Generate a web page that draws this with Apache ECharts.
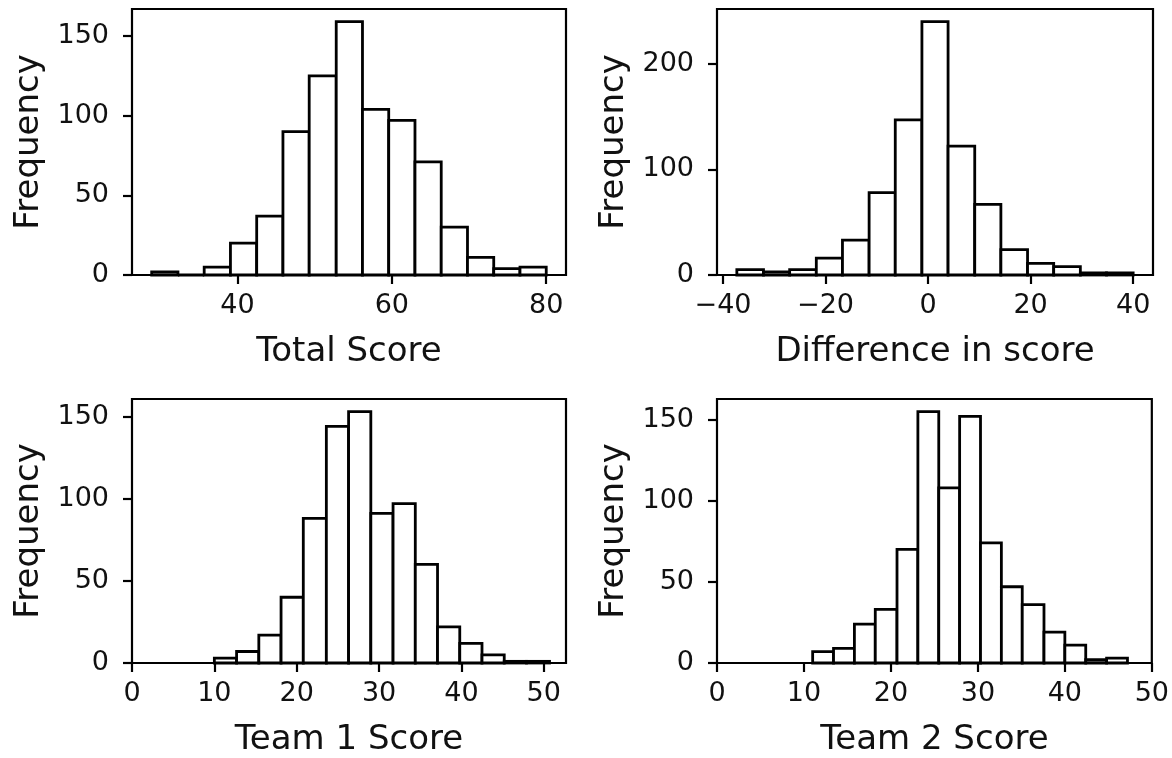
<!DOCTYPE html>
<html>
<head>
<meta charset="utf-8">
<script src="https://cdn.jsdelivr.net/npm/echarts@6/dist/echarts.min.js"></script>
<style>
html,body{margin:0;padding:0;background:#fff;}
#chart{width:1172px;height:758px;}
</style>
</head>
<body>
<div id="chart"></div>
<script>
// ---- Data ----
const totalEdges = [28.9, 32.3, 35.7, 39.1, 42.5, 45.9, 49.3, 52.8, 56.2, 59.6, 63.0, 66.4, 69.8, 73.2, 76.6, 80.0];
const totalCounts = [2, 0, 5, 20, 37, 90, 125, 159, 104, 97, 71, 30, 11, 4, 5];

const diffEdges = [-37.3, -32.1, -27.0, -21.8, -16.7, -11.5, -6.4, -1.2, 3.9, 9.1, 14.2, 19.4, 24.5, 29.7, 34.8, 40.0];
const diffCounts = [5, 3, 5, 16, 33, 78, 147, 240, 122, 67, 24, 11, 8, 2, 2];

const team1Edges = [10.0, 12.7, 15.4, 18.1, 20.8, 23.6, 26.3, 29.0, 31.7, 34.4, 37.1, 39.8, 42.5, 45.2, 47.9, 50.7];
const team1Counts = [3, 7, 17, 40, 88, 144, 153, 91, 97, 60, 22, 12, 5, 1, 1];

const team2Edges = [11.0, 13.4, 15.8, 18.2, 20.7, 23.1, 25.5, 27.9, 30.3, 32.7, 35.1, 37.6, 40.0, 42.4, 44.8, 47.2];
const team2Counts = [7, 9, 24, 33, 70, 155, 108, 152, 74, 47, 36, 19, 11, 2, 3];

const xTicksTotal = [40, 60, 80];
const xTicksDiff = [-40, -20, 0, 20, 40];
const xTicksTeam = [0, 10, 20, 30, 40, 50];
const yTicks150 = [0, 50, 100, 150];
const yTicks200 = [0, 100, 200];

const xNames = ['Total Score', 'Difference in score', 'Team 1 Score', 'Team 2 Score'];
const yName = 'Frequency';

// ---- Build chart ----
const FONT = 'DejaVu Sans';
const panels = [
  {edges: totalEdges, counts: totalCounts, xmin: 26.35, xmax: 82.56, ymax: 166.95, xt: xTicksTotal, yt: yTicks150},
  {edges: diffEdges, counts: diffCounts, xmin: -41.17, xmax: 43.87, ymax: 252, xt: xTicksDiff, yt: yTicks200},
  {edges: team1Edges, counts: team1Counts, xmin: 0, xmax: 52.7, ymax: 160.65, xt: xTicksTeam, yt: yTicks150},
  {edges: team2Edges, counts: team2Counts, xmin: 0, xmax: 50, ymax: 162.75, xt: xTicksTeam, yt: yTicks150}
];
const grids = [
  {left: 132, width: 434, top: 9, height: 266},
  {left: 717, width: 436, top: 9, height: 266},
  {left: 132, width: 434, top: 399, height: 267},
  {left: 717, width: 436, top: 399, height: 267}
];

function fmt(v){ return v < 0 ? '\u2212' + Math.abs(v) : String(v); }

const option = {
  animation: false,
  backgroundColor: '#fff',
  grid: grids.map(g => Object.assign({show: true, borderColor: '#000', borderWidth: 2.2, backgroundColor: 'transparent'}, g)),
  xAxis: panels.map((p, i) => ({
    type: 'value', gridIndex: i, min: p.xmin, max: p.xmax, position: 'bottom',
    name: xNames[i], nameLocation: 'middle', nameGap: 60,
    nameTextStyle: {fontFamily: FONT, fontSize: 34, color: '#111'},
    axisLine: {show: false, onZero: false},
    splitLine: {show: false},
    axisTick: {show: true, inside: false, length: 9, lineStyle: {color: '#000', width: 2.2}, customValues: p.xt},
    axisLabel: {show: true, margin: 17, fontFamily: FONT, fontSize: 27, color: '#111', customValues: p.xt, formatter: fmt}
  })),
  yAxis: panels.map((p, i) => ({
    type: 'value', gridIndex: i, min: 0, max: p.ymax, position: 'left',
    name: yName, nameLocation: 'middle', nameGap: 86, nameRotate: 90,
    nameTextStyle: {fontFamily: FONT, fontSize: 34, color: '#111'},
    axisLine: {show: false, onZero: false},
    splitLine: {show: false},
    axisTick: {show: true, inside: false, length: 9, lineStyle: {color: '#000', width: 2.2}, customValues: p.yt},
    axisLabel: {show: true, margin: 23, fontFamily: FONT, fontSize: 27, color: '#111', customValues: p.yt, formatter: fmt}
  })),
  series: panels.map((p, i) => ({
    type: 'custom', xAxisIndex: i, yAxisIndex: i,
    encode: {x: [0, 1], y: 2},
    data: p.counts.map((c, k) => [p.edges[k], p.edges[k + 1], c]),
    renderItem: function(params, api){
      const tl = api.coord([api.value(0), api.value(2)]);
      const br = api.coord([api.value(1), 0]);
      return {
        type: 'rect',
        shape: {x: tl[0], y: tl[1], width: br[0] - tl[0], height: br[1] - tl[1]},
        style: {fill: '#fff', stroke: '#000', lineWidth: 2.8}
      };
    }
  }))
};

const chart = echarts.init(document.getElementById('chart'), null, {renderer: 'canvas'});
chart.setOption(option);
</script>
</body>
</html>
